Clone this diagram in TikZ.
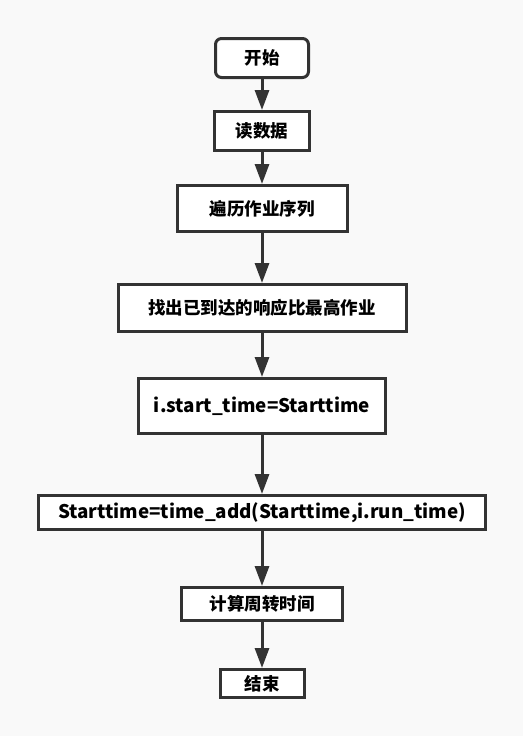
\documentclass[tikz,border=0pt]{standalone}
\usepackage{fontspec}
\setmainfont{Noto Sans CJK SC}
\usetikzlibrary{arrows.meta}
\definecolor{FlowLine}{HTML}{333333}
\definecolor{FlowBack}{HTML}{F9F9F9}
\tikzset{>={Triangle[length=20pt,width=14pt]},every node/.style={font=\fontsize{17.5}{20}\selectfont\bfseries},
 stepbox/.style={draw=FlowLine,fill=white,line width=3pt,inner sep=0pt,align=center},
 codebox/.style={stepbox,font=\fontsize{18.8}{21}\selectfont\bfseries},
 flow/.style={draw=FlowLine,line width=3pt,->}}
\begin{document}
\begin{tikzpicture}[x=1pt,y=-1pt]
\fill[FlowBack] (0,0) rectangle (523,736);
\useasboundingbox (0,0) rectangle (523,736);
% one column of steps, top to bottom
\node[stepbox,rounded corners=6pt,minimum width=93pt,minimum height=39pt] (start) at (262,58){开始};
\node[stepbox,minimum width=95pt,minimum height=39pt] (read) at (262,131){读数据};
\node[stepbox,minimum width=170pt,minimum height=46pt] (loop) at (262,208.5){遍历作业序列};
\node[stepbox,minimum width=288pt,minimum height=47pt] (pick) at (262,308){找出已到达的响应比最高作业};
\node[codebox,minimum width=247pt,minimum height=55pt] (begin) at (262,406){i.start\_time=Starttime};
\node[codebox,minimum width=447pt,minimum height=34pt] (add) at (262,512.5){Starttime=time\_add(Starttime,i.run\_time)};
\node[stepbox,minimum width=161pt,minimum height=33pt] (turn) at (262,604){计算周转时间};
\node[stepbox,minimum width=84pt,minimum height=28pt] (stop) at (262,683.5){结束};
\foreach \a/\b in {start/read,read/loop,loop/pick,pick/begin,begin/add,add/turn,turn/stop}
 \draw[flow] (\a) -- (\b);
\end{tikzpicture}
\end{document}
